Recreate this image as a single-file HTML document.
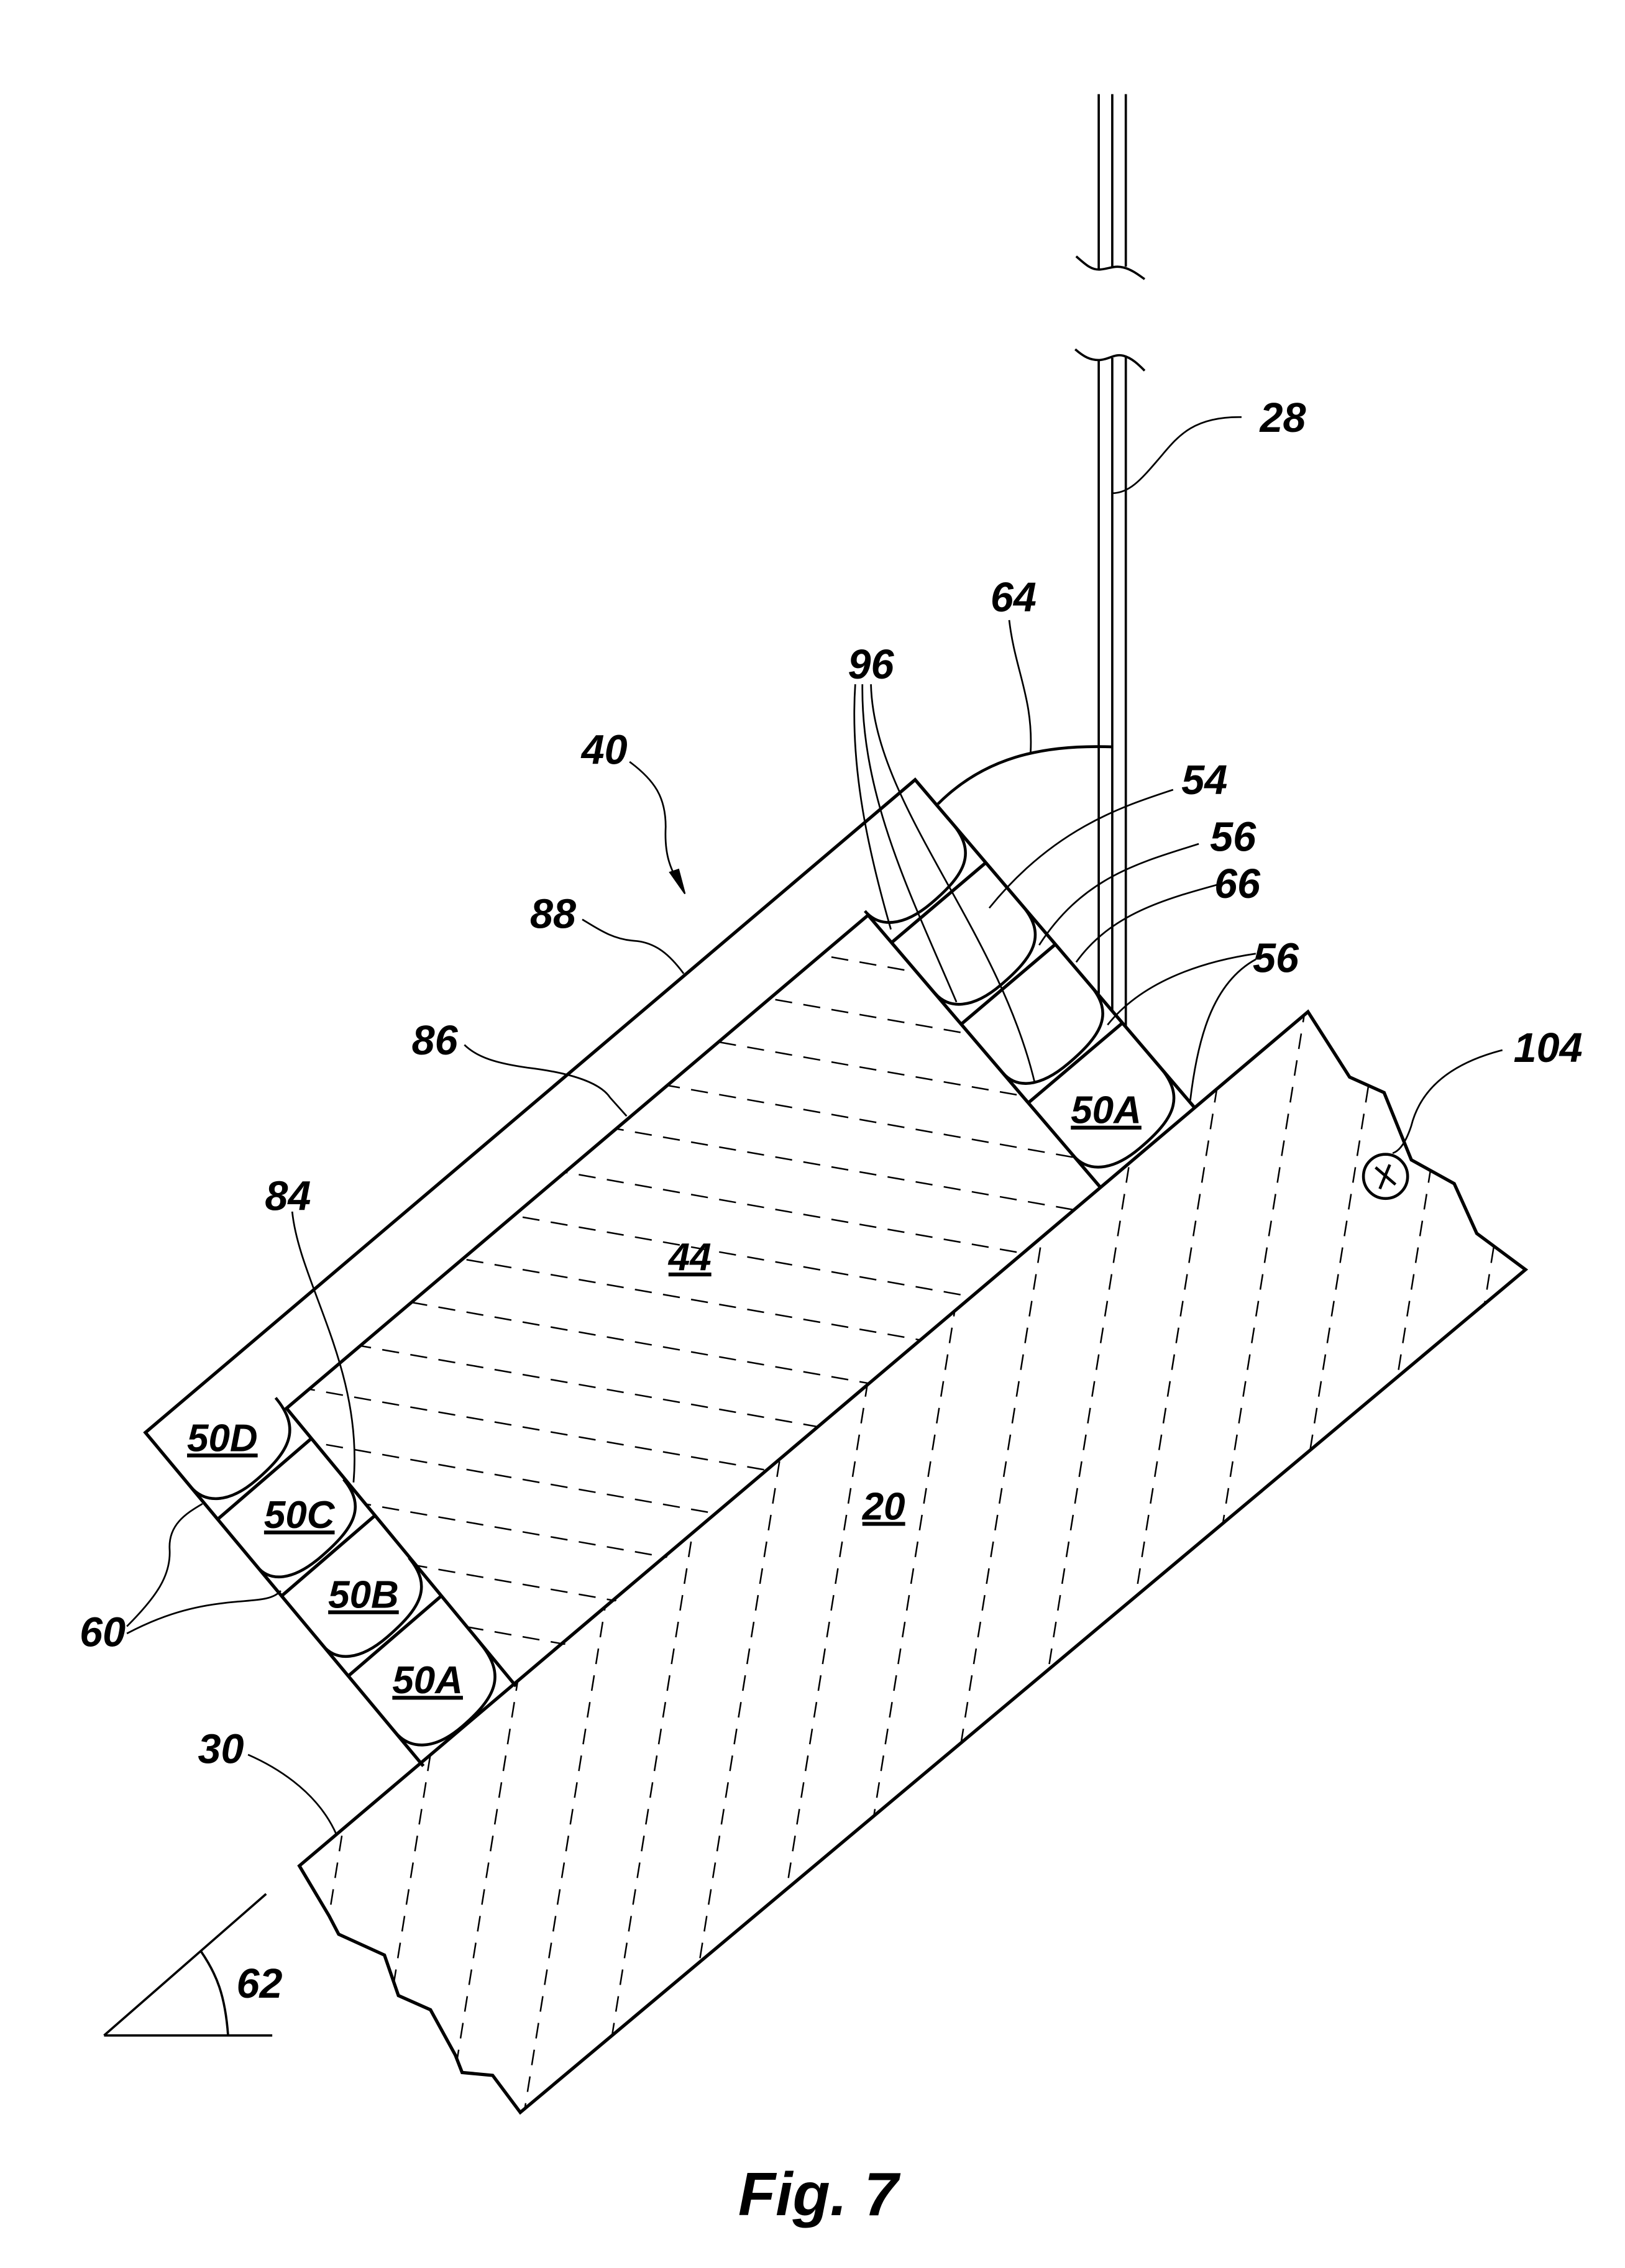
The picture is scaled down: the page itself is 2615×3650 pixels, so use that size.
<!DOCTYPE html>
<html><head><meta charset="utf-8"><style>
html,body{margin:0;padding:0;background:#fff;}
svg{display:block;}
text{font-family:"Liberation Sans",Arial,sans-serif;font-weight:bold;font-style:italic;fill:#000;}
</style></head><body>
<svg id="s" width="2615" height="3650" viewBox="0 0 1140 1591.1" xmlns="http://www.w3.org/2000/svg">
<defs>
<clipPath id="c44"><polygon points="201,988 609,642 772,833 362,1183"/></clipPath>
<clipPath id="csub"><polygon points="210,1309 230.8,1344 237.6,1357 269.7,1371.6 279.5,1400 302,1410 319.4,1441.7 324.2,1454 345.6,1456 365,1482 1070.2,890.7 1036,865.3 1020.2,830.4 990.1,813.7 971,766.5 946.8,755.6 917.6,709.8"/></clipPath>
</defs>
<g id="dash44" clip-path="url(#c44)" stroke="#000" stroke-width="1.1" stroke-dasharray="12 8" fill="none"></g>
<g id="dashsub" clip-path="url(#csub)" stroke="#000" stroke-width="1.1" stroke-dasharray="11 8" fill="none"></g>
<g fill="none" stroke="#000" stroke-width="2.3" stroke-linejoin="miter">
<polygon points="210,1309 230.8,1344 237.6,1357 269.7,1371.6 279.5,1400 302,1410 319.4,1441.7 324.2,1454 345.6,1456 365,1482 1070.2,890.7 1036,865.3 1020.2,830.4 990.1,813.7 971,766.5 946.8,755.6 917.6,709.8"/>
<polyline points="297,1239 102,1005 642,547 838,777"/>
<polyline points="362,1183 201,988 609,642 772,833"/>
</g>
<g id="beads" fill="none" stroke="#000" stroke-width="2"></g>
<!-- wire -->
<g fill="none" stroke="#000" stroke-width="1.6">
<line x1="770.8" y1="66" x2="770.8" y2="189"/>
<line x1="780.3" y1="66" x2="780.3" y2="188"/>
<line x1="789.8" y1="66" x2="789.8" y2="187"/>
<path d="M755 179.8 C762 186,766 189.6,772 189 C778 188.5,782 186,788 187.6 C794 189,799 193,803 195.8"/>
<path d="M754.3 245 C760 250,765 253,772 252.5 C778 252,782 248,788 249.5 C794 251,799 256,803 260"/>
<line x1="770.8" y1="252" x2="770.8" y2="697"/>
<line x1="780.3" y1="251" x2="780.3" y2="709"/>
<line x1="789.8" y1="250" x2="789.8" y2="720"/>
<path d="M658 564 C690 532,730 522,781 524" stroke-width="2"/>
</g>
<!-- leaders -->
<g fill="none" stroke="#000" stroke-width="1.2">
<path d="M871 292.6 C835 292,825 308,812 323 C800 337,792 346,780 346"/>
<path d="M708 435 C712 470,725 490,723 528"/>
<path d="M600 480 C596 540,610 600,625 652"/>
<path d="M605 480 C604 560,640 630,671 703"/>
<path d="M611 480 C613 565,700 650,726 760"/>
<path d="M823 554 C790 565,740 580,694 637"/>
<path d="M841 592 C800 605,760 615,729 663"/>
<path d="M860 619 C820 630,780 640,755 675"/>
<path d="M881 669 C840 675,800 690,777 719"/>
<path d="M881 673 C850 690,840 730,835 772"/>
<path d="M1054 736.7 C1010 748,995 770,990 790 C985 805,980 808,977 809"/>
<path d="M441.7 534.4 C460 548,467 560,467 580 C466 600,470 610,480 626"/>
<path d="M408.5 645 C420 652,430 659,445 660 C460 661,470 670,479.6 683"/>
<path d="M325.8 733 C335 742,349 746,370 749 C395 752,420 758,428 770 L439.6 783"/>
<path d="M205 850 C210 900,255 960,248 1040"/>
<path d="M89 1141 C110 1120,120 1105,119 1087 C118 1070,130 1062,142 1055"/>
<path d="M89 1146 C110 1135,130 1128,154 1125 C175 1122,190 1124,197 1116"/>
<path d="M174 1231 C190 1238,222 1255,236 1287"/>
</g>
<polygon points="480.5,627 470,612 476,610" fill="#000" stroke="#000" stroke-width="1"/>
<!-- angle 62 -->
<g fill="none" stroke="#000" stroke-width="1.6">
<line x1="73" y1="1428" x2="186.7" y2="1328.7"/>
<line x1="73" y1="1428" x2="191" y2="1428"/>
<path d="M141 1369 C152 1385,158 1400,160 1428"/>
</g>
<circle cx="972" cy="825.3" r="15.5" fill="none" stroke="#000" stroke-width="2"/>
<path d="M965 819 L979 831 M975 817 L968 834" stroke="#000" stroke-width="2"/>
<!-- labels -->
<g font-size="29">
<text x="900" y="303" text-anchor="middle">28</text>
<text x="711" y="429" text-anchor="middle">64</text>
<text x="611" y="476" text-anchor="middle">96</text>
<text x="424" y="536" text-anchor="middle">40</text>
<text x="388" y="651" text-anchor="middle" font-style="normal">88</text>
<text x="305" y="739.7" text-anchor="middle" font-style="normal">86</text>
<text x="202" y="849" text-anchor="middle">84</text>
<text x="72" y="1155" text-anchor="middle">60</text>
<text x="155" y="1237" text-anchor="middle">30</text>
<text x="182" y="1401.5" text-anchor="middle">62</text>
<text x="845" y="557" text-anchor="middle">54</text>
<text x="865" y="597" text-anchor="middle">56</text>
<text x="868" y="630" text-anchor="middle">66</text>
<text x="895" y="682" text-anchor="middle">56</text>
<text x="1086" y="745" text-anchor="middle">104</text>
</g>
<g font-size="27" text-decoration="underline">
<text x="156" y="1018" text-anchor="middle">50D</text>
<text x="210" y="1072" text-anchor="middle">50C</text>
<text x="255" y="1128" text-anchor="middle">50B</text>
<text x="300" y="1188" text-anchor="middle">50A</text>
<text x="776" y="788" text-anchor="middle">50A</text>
<text x="484" y="891" text-anchor="middle">44</text>
<text x="620" y="1066" text-anchor="middle">20</text>
</g>
<text x="574" y="1554" font-size="43" text-anchor="middle">Fig. 7</text>
</svg>
<script>
var NS="http://www.w3.org/2000/svg";
function el(p,n,a){var e=document.createElementNS(NS,n);for(var k in a)e.setAttribute(k,a[k]);p.appendChild(e);return e;}
var g44=document.getElementById('dash44');
for(var k=862.6-36.8*10;k<1140;k+=36.8){el(g44,'line',{x1:150,y1:k+0.177*150,x2:850,y2:k+0.177*850});}
var gs=document.getElementById('dashsub');
for(var x0=240.6-53*2;x0<1200;x0+=53){var yA=650,yB=1500;el(gs,'line',{x1:x0-0.16*(yA-1283),y1:yA,x2:x0-0.16*(yB-1283),y2:yB});}
var gb=document.getElementById('beads');
function col(O,d,c,ts,rightIsInner){
 function P(t,s){return [O[0]+c[0]*s+d[0]*t,O[1]+c[1]*s+d[1]*t];}
 var sR=rightIsInner?1:0,sL=rightIsInner?0:1;
 var r=[ (rightIsInner?1:-1)*c[0],(rightIsInner?1:-1)*c[1] ];
 function add(p,v,k){return [p[0]+v[0]*k,p[1]+v[1]*k];}
 for(var i=1;i<ts.length-1;i++){var a=P(ts[i],0),b=P(ts[i],1);el(gb,'line',{x1:a[0],y1:a[1],x2:b[0],y2:b[1],'stroke-width':2.3});}
 for(var i=0;i<ts.length-1;i++){
  var A=ts[i],B=ts[i+1],L=B-A;
  var S=P(A+0.52*L,sR),E=P(A+0.62*L,sL);
  var M=add(P(B-0.04*L,sL),r,0.45);
  var C1=add(S,d,0.36*L), C2=add(M,r,0.36);
  var C3=add(M,r,-0.3), C4=add(E,d,0.2*L);
  el(gb,'path',{d:'M'+S+' C'+C1+' '+C2+' '+M+' C'+C3+' '+C4+' '+E});
 }
}
col([102,1005],[195,234],[65,-56],[0,0.26,0.49,0.73,1],true);
col([642,547],[196,230],[-66,56],[0,0.253,0.502,0.742,1],false);
</script>
</body></html>
